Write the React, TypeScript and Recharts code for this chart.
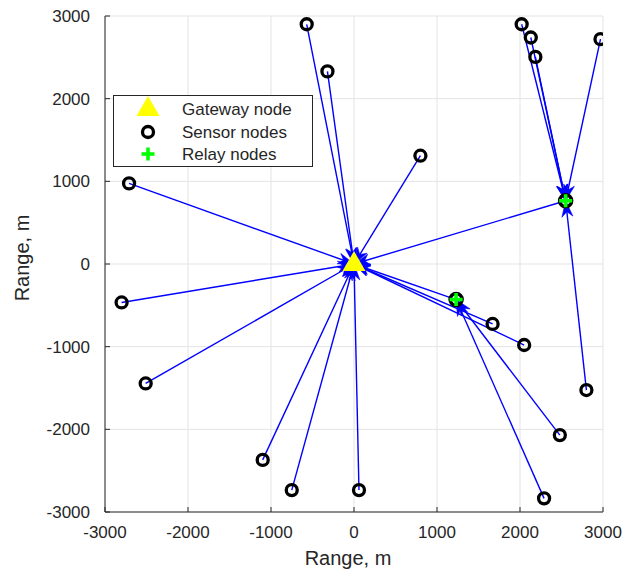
import { ScatterChart, Scatter, XAxis, YAxis, CartesianGrid, Legend } from 'recharts';

const ticks = [-3000, -2000, -1000, 0, 1000, 2000, 3000];

// sensor node positions (m)
const sensorX = [-570, -320, 800, 2020, 2130, 2185, 2970, -2710, -2800, -2510, -1100, -750, 60, 1670, 2050, 2800, 2480, 2290];
const sensorY = [2900, 2330, 1310, 2900, 2740, 2505, 2720, 975, -465, -1445, -2370, -2735, -2735, -725, -980, -1525, -2070, -2835];
// next hop of every sensor: G = gateway, R1 / R2 = relay
const sensorHop = ['G', 'G', 'G', 'R2', 'R2', 'R2', 'R2', 'G', 'G', 'G', 'G', 'G', 'G', 'G', 'G', 'R2', 'R1', 'R1'];

const relayX = [1230, 2550];
const relayY = [-430, 765];
const relayHop = ['G', 'G'];

const gatewayX = [0];
const gatewayY = [0];

const ink = '#262626';
const font = '"Liberation Sans", Arial, sans-serif';

const nodePos = (id: string) => {
  if (id === 'G') return { x: gatewayX[0], y: gatewayY[0] };
  const i = id === 'R1' ? 0 : 1;
  return { x: relayX[i], y: relayY[i] };
};

const edge = (sx: number, sy: number, to: string) => {
  const t = nodePos(to);
  const ang = Math.atan2(-(t.y - sy), t.x - sx);
  return [{ x: sx, y: sy }, { x: t.x, y: t.y, head: true, ang }];
};

const edges = [
  ...sensorX.map((x, i) => edge(x, sensorY[i], sensorHop[i])),
  ...relayX.map((x, i) => edge(x, relayY[i], relayHop[i])),
];

const sensors = sensorX.map((x, i) => ({ x, y: sensorY[i] }));
const relays = relayX.map((x, i) => ({ x, y: relayY[i] }));
const gateway = gatewayX.map((x, i) => ({ x, y: gatewayY[i] }));

const Arrow = (p: any) => {
  if (!p.payload || !p.payload.head) return <g />;
  const a = p.payload.ang;
  const ux = Math.cos(a), uy = Math.sin(a);
  const nx = -uy, ny = ux;
  const L = 16, W = 5.5, N = 11;
  const pts = [
    [p.cx, p.cy],
    [p.cx - L * ux + W * nx, p.cy - L * uy + W * ny],
    [p.cx - N * ux, p.cy - N * uy],
    [p.cx - L * ux - W * nx, p.cy - L * uy - W * ny],
  ].map((q) => q.join(',')).join(' ');
  return <polygon points={pts} fill="#0000ff" stroke="#0000ff" strokeWidth={0.6} />;
};

const Ring = ({ cx, cy }: any) => <circle cx={cx} cy={cy} r={5.5} fill="none" stroke="#000" strokeWidth={3.3} />;

const Tri = ({ cx, cy }: any) => (
  <polygon points={`${cx},${cy - 13} ${cx - 11.5},${cy + 7} ${cx + 11.5},${cy + 7}`} fill="#ffff00" />
);

const Plus = ({ cx, cy }: any) => (
  <g>
    <line x1={cx - 6.5} y1={cy} x2={cx + 6.5} y2={cy} stroke="#00ff00" strokeWidth={3.6} />
    <line x1={cx} y1={cy - 6.5} x2={cx} y2={cy + 6.5} stroke="#00ff00" strokeWidth={3.6} />
  </g>
);

const Relay = (p: any) => (
  <g>
    <circle cx={p.cx} cy={p.cy} r={6} fill="none" stroke="#000" strokeWidth={3.5} />
    <Plus {...p} />
  </g>
);

const BottomTick = (p: any) => (
  <g>
    <line x1={p.x} y1={p.y} x2={p.x} y2={p.y - 5} stroke={ink} />
    <text x={p.x} y={p.y + 26} textAnchor="middle" fill={ink} fontSize={17} fontFamily={font}>{p.payload.value}</text>
  </g>
);
const LeftTick = (p: any) => (
  <g>
    <line x1={p.x} y1={p.y} x2={p.x + 5} y2={p.y} stroke={ink} />
    <text x={p.x - 15} y={p.y + 6} textAnchor="end" fill={ink} fontSize={17} fontFamily={font}>{p.payload.value}</text>
  </g>
);
const TopTick = (p: any) => <line x1={p.x} y1={p.y} x2={p.x} y2={p.y + 5} stroke={ink} />;
const RightTick = (p: any) => <line x1={p.x} y1={p.y} x2={p.x - 5} y2={p.y} stroke={ink} />;

const LegendBox = () => (
  <div style={{ width: 200, height: 72, background: '#fff', border: `1px solid ${ink}`, boxSizing: 'border-box' }}>
    <svg width={198} height={70} style={{ display: 'block' }}>
      <Tri cx={34} cy={13} />
      <Ring cx={34} cy={36} />
      <Plus cx={34} cy={58} />
      <g fill={ink} fontSize={17} fontFamily={font}>
        <text x={68} y={19}>Gateway node</text>
        <text x={68} y={42}>Sensor nodes</text>
        <text x={68} y={64}>Relay nodes</text>
      </g>
    </svg>
  </div>
);

export default function App() {
  return (
    <div style={{ position: 'absolute', left: 0, top: 0, background: '#fff' }}>
      <ScatterChart width={633} height={572} margin={{ top: 16, right: 30, bottom: 0, left: 0 }} style={{ fontFamily: font }}>
        <CartesianGrid stroke="#e3e3e3" />
        <XAxis dataKey="x" type="number" domain={[-3000, 3000]} ticks={ticks} allowDataOverflow
          height={60} tickSize={0} tickMargin={0} tickLine={false} tick={<BottomTick />} axisLine={{ stroke: ink }}
          label={{ value: 'Range, m', position: 'insideBottom', offset: 7, dx: -6, fill: ink, fontSize: 20 }} />
        <YAxis dataKey="y" type="number" domain={[-3000, 3000]} ticks={ticks} allowDataOverflow
          width={105} tickSize={0} tickMargin={0} tickLine={false} tick={<LeftTick />} axisLine={{ stroke: ink }}
          label={{ content: () => <text x={29} y={258} transform="rotate(-90 29 258)" textAnchor="middle" fill={ink} fontSize={20} fontFamily={font}>Range, m</text> }} />
        <XAxis xAxisId="top" orientation="top" dataKey="x" type="number" domain={[-3000, 3000]} ticks={ticks} allowDataOverflow
          height={0} tickSize={0} tickMargin={0} tickLine={false} tick={<TopTick />} axisLine={{ stroke: ink }} />
        <YAxis yAxisId="right" orientation="right" dataKey="y" type="number" domain={[-3000, 3000]} ticks={ticks} allowDataOverflow
          width={0} tickSize={0} tickMargin={0} tickLine={false} tick={<RightTick />} axisLine={{ stroke: ink }} />
        {edges.map((d, i) => (
          <Scatter key={i} data={d} line={{ stroke: '#0000ff', strokeWidth: 1.4 }} lineType="joint"
            shape={<Arrow />} legendType="none" isAnimationActive={false} />
        ))}
        <Scatter data={sensors} shape={<Ring />} legendType="none" isAnimationActive={false} />
        <Scatter data={gateway} shape={<Tri />} legendType="none" isAnimationActive={false} />
        <Scatter data={relays} shape={<Relay />} legendType="none" isAnimationActive={false} />
        <Legend content={<LegendBox />} layout="vertical" align="center" verticalAlign="middle"
          wrapperStyle={{ left: 113, top: 95, width: 200, height: 72 }} />
      </ScatterChart>
    </div>
  );
}
